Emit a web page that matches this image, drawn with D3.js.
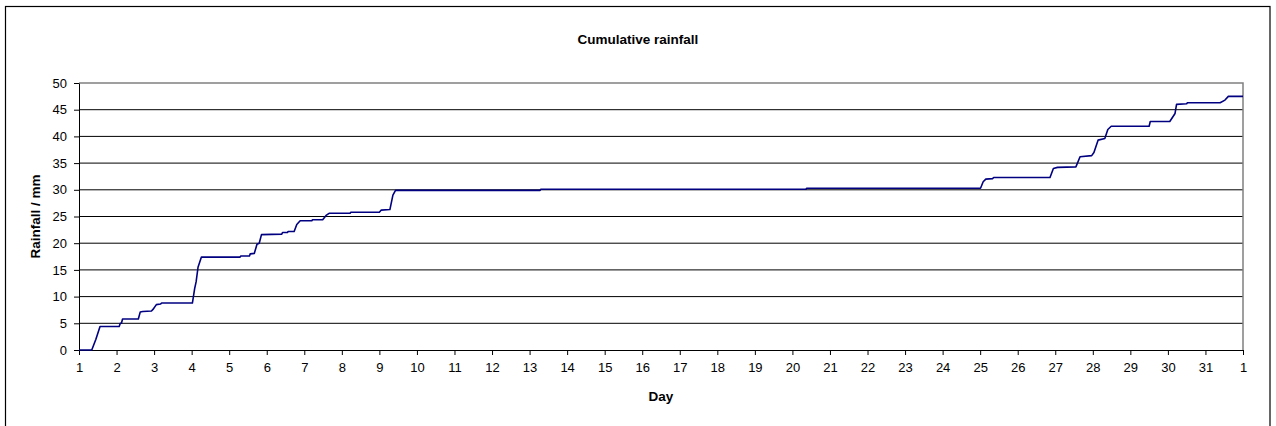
<!DOCTYPE html>
<html>
<head>
<meta charset="utf-8">
<script src="https://cdn.jsdelivr.net/npm/d3@7"></script>
<style>
  html, body { margin: 0; padding: 0; background: #fff; }
  svg { display: block; font-family: Arial, "Liberation Sans", sans-serif; }
</style>
</head>
<body>
<svg id="chart" width="1276" height="426"></svg>
<script>
// ---- data ----
const title = "Cumulative rainfall";
const xTitle = "Day";
const yTitle = "Rainfall / mm";

const days = [1.00, 1.34, 1.45, 1.56, 2.07, 2.10, 2.13, 2.16, 2.58, 2.63, 2.70, 2.93, 2.97, 3.06, 3.17, 3.20,
  4.02, 4.08, 4.12, 4.17, 4.26, 5.29, 5.31, 5.54, 5.56, 5.67, 5.74, 5.80, 5.86, 6.40, 6.42, 6.55, 6.57,
  6.73, 6.80, 6.89, 7.20, 7.22, 7.49, 7.58, 7.66, 8.22, 8.24, 9.00, 9.05, 9.28, 9.36, 9.43, 13.28, 13.30,
  20.36, 20.38, 25.01, 25.08, 25.15, 25.33, 25.36, 26.86, 26.95, 27.06, 27.55, 27.58, 27.66, 27.97, 28.03,
  28.14, 28.32, 28.40, 28.49, 29.50, 29.53, 30.05, 30.19, 30.23, 30.50, 30.52, 31.39, 31.52, 31.61, 32.00];

const rainfall = [0, 0, 2.0, 4.4, 4.4, 5.0, 5.0, 5.8, 5.8, 7.1, 7.2, 7.3, 7.6, 8.5, 8.6, 8.8,
  8.8, 11.5, 12.8, 15.5, 17.4, 17.4, 17.6, 17.6, 18.0, 18.1, 19.8, 20.0, 21.6, 21.7, 22.0, 22.0, 22.2,
  22.2, 23.5, 24.2, 24.2, 24.4, 24.4, 25.2, 25.6, 25.6, 25.8, 25.8, 26.2, 26.3, 29.0, 29.9, 29.9, 30.1,
  30.1, 30.3, 30.3, 31.5, 32.0, 32.1, 32.3, 32.3, 34.0, 34.2, 34.3, 34.8, 36.2, 36.4, 37.0,
  39.3, 39.6, 41.3, 41.9, 41.9, 42.8, 42.8, 44.3, 46.0, 46.1, 46.3, 46.3, 46.8, 47.5, 47.5];

const xTickValues = d3.range(1, 33);
const xTickLabels = ["1","2","3","4","5","6","7","8","9","10","11","12","13","14","15","16","17","18",
  "19","20","21","22","23","24","25","26","27","28","29","30","31","1"];
const yTickValues = [0, 5, 10, 15, 20, 25, 30, 35, 40, 45, 50];

// ---- layout ----
const svg = d3.select("#chart");
const plot = { left: 79, right: 1243, top: 83, bottom: 350 };

const x = d3.scaleLinear().domain([1, 32]).range([plot.left, plot.right]);
const y = d3.scaleLinear().domain([0, 50]).range([plot.bottom, plot.top]);

// outer chart border
svg.append("rect")
  .attr("x", 5.5).attr("y", 6.5)
  .attr("width", 1264.5).attr("height", 440)
  .attr("fill", "#fff").attr("stroke", "#000").attr("stroke-width", 1.2);

// gridlines
svg.append("g")
  .selectAll("line")
  .data(yTickValues.filter(v => v > 0 && v < 50))
  .join("line")
  .attr("x1", plot.left).attr("x2", plot.right)
  .attr("y1", d => y(d)).attr("y2", d => y(d))
  .attr("stroke", "#000").attr("stroke-width", 1);

// plot area border (top + right)
svg.append("path")
  .attr("d", `M${plot.left},${y(50)}H${plot.right}V${plot.bottom}`)
  .attr("fill", "none").attr("stroke", "#808080").attr("stroke-width", 1.5);

// x axis
const xAxis = d3.axisBottom(x)
  .tickValues(xTickValues)
  .tickFormat((d, i) => xTickLabels[i])
  .tickSize(5).tickPadding(8).tickSizeOuter(0);
const gx = svg.append("g").attr("transform", `translate(0,${plot.bottom})`).call(xAxis);

// y axis
const yAxis = d3.axisLeft(y)
  .tickValues(yTickValues)
  .tickSize(5).tickPadding(7).tickSizeOuter(0);
const gy = svg.append("g").attr("transform", `translate(${plot.left},0)`).call(yAxis);

[gx, gy].forEach(g => {
  g.select(".domain").attr("stroke", "#000").attr("stroke-width", 1);
  g.selectAll(".tick line").attr("stroke", "#000");
  g.selectAll(".tick text").attr("fill", "#000")
    .style("font-family", "Arial, 'Liberation Sans', sans-serif").style("font-size", "13px");
});

// line
const data = days.map((d, i) => ({ d, v: rainfall[i] }));
svg.append("path")
  .datum(data)
  .attr("fill", "none")
  .attr("stroke", "#000080")
  .attr("stroke-width", 1.6)
  .attr("stroke-linejoin", "round")
  .attr("d", d3.line().x(p => x(p.d)).y(p => y(p.v)));

// titles
svg.append("text")
  .attr("x", 638).attr("y", 44)
  .attr("text-anchor", "middle")
  .style("font-size", "13.5px").style("font-weight", "bold")
  .text(title);

svg.append("text")
  .attr("x", (plot.left + plot.right) / 2).attr("y", 401)
  .attr("text-anchor", "middle")
  .style("font-size", "13.5px").style("font-weight", "bold")
  .text(xTitle);

svg.append("text")
  .attr("transform", `translate(40,${(plot.top + plot.bottom) / 2}) rotate(-90)`)
  .attr("text-anchor", "middle")
  .style("font-size", "13.5px").style("font-weight", "bold")
  .text(yTitle);
</script>
</body>
</html>
